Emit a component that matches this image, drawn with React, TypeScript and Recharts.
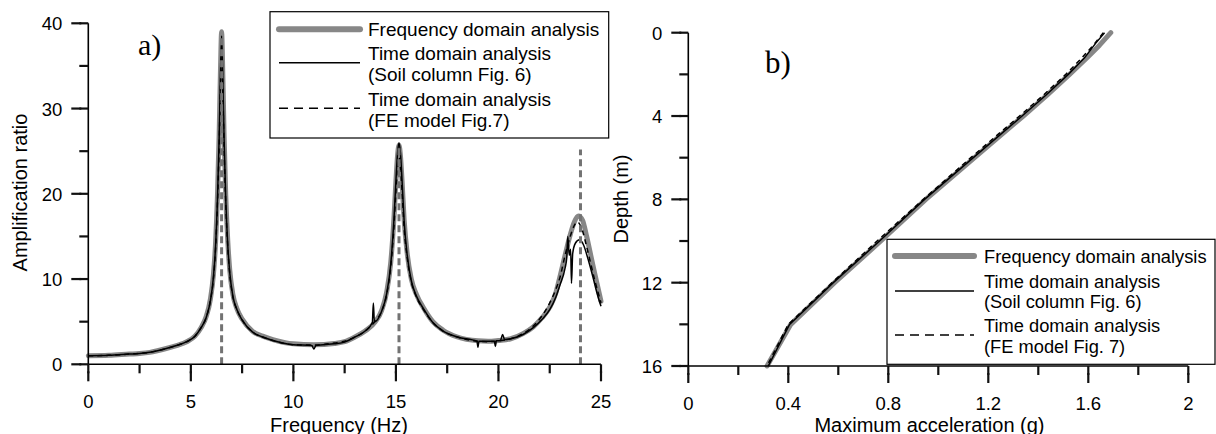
import { LineChart, Line, XAxis, YAxis, ReferenceLine } from "recharts";

// ---- a) amplification ratio vs frequency, [Hz, ratio] ----
const freqDomain: [number, number][] = [
  [0, 1.0], [1, 1.05], [2, 1.2], [2.5, 1.27], [3, 1.4], [3.8, 1.85], [4.3, 2.2], [4.8, 2.65],
  [5.2, 3.3], [5.5, 4.3], [5.75, 5.6], [5.95, 7.6], [6.1, 10.5], [6.2, 14], [6.3, 20], [6.38, 27],
  [6.44, 34], [6.5, 39], [6.56, 34], [6.62, 27], [6.7, 20], [6.8, 14.5], [6.9, 11], [7.05, 8.2],
  [7.25, 6.5], [7.5, 5.3], [8, 3.9], [8.5, 3.3], [9, 2.9], [10, 2.4], [11, 2.3], [12, 2.45],
  [12.5, 2.65], [13, 3.2], [13.5, 3.9], [14, 5.0], [14.3, 6.3], [14.55, 8.5], [14.75, 12],
  [14.9, 17], [15.0, 21.5], [15.08, 24.5], [15.15, 25.7], [15.22, 24.5], [15.3, 21.5],
  [15.4, 17], [15.55, 13], [15.75, 10], [16.0, 8.2], [16.35, 6.6], [16.8, 5.0], [17.3, 4.0],
  [18, 3.2], [19, 2.75], [19.5, 2.7], [20, 2.8], [20.6, 3.0], [21.2, 3.6], [21.7, 4.4],
  [22.1, 5.4], [22.5, 6.7], [22.8, 8.4], [23.0, 10.3], [23.25, 12.8], [23.5, 15.2], [23.7, 16.7],
  [23.9, 17.4], [24.1, 16.9], [24.3, 15.0], [24.5, 12.8], [24.7, 10.6], [24.85, 9.0], [25, 7.4],
];

const soilColumn: [number, number][] = [
  [0, 1.0], [1, 1.05], [2, 1.2], [2.5, 1.27], [3, 1.4], [3.8, 1.85], [4.3, 2.2], [4.8, 2.65],
  [5.2, 3.3], [5.5, 4.3], [5.75, 5.5], [5.95, 7.4], [6.1, 10.2], [6.2, 13.6], [6.3, 19.5],
  [6.38, 26.5], [6.44, 33.5], [6.5, 38.5], [6.56, 33.5], [6.62, 26.5], [6.7, 19.5], [6.8, 14],
  [6.9, 10.7], [7.05, 8.0], [7.25, 6.4], [7.5, 5.2], [8, 3.8], [8.5, 3.2], [9, 2.8], [10, 2.3],
  [10.9, 2.2], [11.0, 1.8], [11.1, 2.2], [12, 2.4], [12.5, 2.6], [13, 3.2], [13.5, 3.9],
  [13.85, 4.9], [13.9, 7.2], [13.95, 5.0], [14.3, 6.2], [14.55, 8.3], [14.75, 11.8], [14.9, 16.8],
  [15.0, 21.5], [15.08, 24.8], [15.15, 26.0], [15.22, 24.8], [15.3, 21.5], [15.4, 16.8],
  [15.55, 12.8], [15.75, 9.8], [16.0, 8.0], [16.35, 6.5], [16.8, 4.9], [17.3, 3.9], [18, 3.2],
  [18.95, 2.7], [19.0, 2.0], [19.05, 2.7], [19.5, 2.7], [19.8, 2.7], [19.85, 2.1], [19.9, 2.75],
  [20.1, 2.8], [20.2, 3.5], [20.3, 2.9], [20.6, 3.0], [21.2, 3.5], [21.7, 4.3], [22.1, 5.2],
  [22.5, 6.4], [22.8, 7.9], [23.0, 9.3], [23.25, 11.3], [23.33, 12.5], [23.38, 15.0],
  [23.45, 12.8], [23.52, 13.5], [23.56, 9.5], [23.62, 13.0], [23.75, 14.2], [23.95, 14.6],
  [24.15, 14.0], [24.35, 12.5], [24.6, 10.3], [24.8, 8.4], [25, 6.8],
];

const feModel: [number, number][] = [
  [0, 1.0], [1, 1.05], [2, 1.2], [3, 1.4], [3.8, 1.85], [4.3, 2.2], [4.8, 2.65], [5.2, 3.3],
  [5.5, 4.3], [5.75, 5.5], [5.95, 7.4], [6.1, 10], [6.2, 13.3], [6.3, 19], [6.38, 25.5],
  [6.44, 32], [6.5, 36.5], [6.56, 32], [6.62, 25.5], [6.7, 19], [6.8, 13.8], [6.9, 10.5],
  [7.05, 7.9], [7.25, 6.4], [7.5, 5.2], [8, 3.8], [8.5, 3.2], [9, 2.8], [10, 2.3], [11, 2.25],
  [12, 2.5], [12.5, 2.7], [13, 3.2], [13.5, 3.9], [14, 5.1], [14.3, 6.2], [14.55, 8.2],
  [14.75, 11.5], [14.9, 16], [15.0, 20.3], [15.08, 23], [15.15, 24.2], [15.22, 23], [15.3, 20.3],
  [15.4, 16], [15.55, 12.5], [15.75, 9.7], [16, 7.9], [16.35, 6.4], [16.8, 4.9], [17.3, 3.9],
  [18, 3.2], [19, 2.7], [19.5, 2.65], [20, 2.75], [20.6, 3.0], [21.2, 3.6], [21.7, 4.5],
  [22.1, 5.6], [22.5, 7.2], [22.8, 8.8], [23.0, 10.2], [23.25, 12.8], [23.5, 15.0], [23.7, 16.3],
  [23.85, 16.7], [24.05, 16.0], [24.3, 13.8], [24.5, 11.8], [24.7, 9.8], [24.85, 8.5], [25, 7.2],
];

// resonance markers: frequency, top of the dashed line
const resonanceFreq = [6.5, 15.15, 24.0];
const resonanceTop = [38.5, 25.5, 25.2];

const freqTicks = [0, 2.5, 5, 7.5, 10, 12.5, 15, 17.5, 20, 22.5, 25];
const ampTicks = [0, 5, 10, 15, 20, 25, 30, 35, 40];

// ---- b) max acceleration profile, [g, depth m] ----
const freqProfile: [number, number][] = [
  [1.69, 0], [1.645, 0.6], [1.595, 1.2], [1.525, 2], [1.435, 3], [1.34, 4], [1.145, 6],
  [0.95, 8], [0.77, 10], [0.585, 12], [0.41, 14], [0.315, 16],
];
const soilProfile: [number, number][] = [
  [1.665, 0], [1.63, 0.5], [1.585, 1.2], [1.52, 2], [1.43, 3], [1.335, 4], [1.14, 6],
  [0.945, 8], [0.765, 10], [0.58, 12], [0.405, 14], [0.32, 16],
];
const feProfile: [number, number][] = [
  [1.66, 0], [1.62, 0.6], [1.575, 1.2], [1.51, 2], [1.42, 3], [1.325, 4], [1.13, 6],
  [0.94, 8], [0.755, 10], [0.575, 12], [0.4, 14], [0.315, 16],
];

const accTicks = [0, 0.2, 0.4, 0.6, 0.8, 1, 1.2, 1.4, 1.6, 1.8, 2];
const depthTicks = [0, 2, 4, 6, 8, 10, 12, 14, 16];

const legendLabels = [
  "Frequency domain analysis",
  "Time domain analysis",
  "(Soil column Fig. 6)",
  "Time domain analysis",
];
const feLabelA = "(FE model Fig.7)";
const feLabelB = "(FE model Fig. 7)";

const FONT = "'Liberation Sans', Arial, Helvetica, sans-serif";
const SERIF = "'Liberation Serif', 'Times New Roman', serif";
const GRAY = "#878787";
const TW = 2.2; // tick stroke width
const MINOR = 9;
const MAJOR = 17;

const ampData = (pts: [number, number][]) => pts.map(([f, amp]) => ({ f, amp }));
const depthData = (pts: [number, number][]) => pts.map(([a, d]) => ({ a, d }));

// built-in tick lines give every tick the minor length; majors are extended here
const bottomTick = (isMajor: (v: number) => boolean) => (p: any) => {
  const v = p.payload.value;
  const x = Number(p.x);
  const y = Number(p.y); // axis + MINOR
  if (!isMajor(v)) return <g key={`bt-${v}`} />;
  return (
    <g key={`bt-${v}`}>
      <path d={`M${x},${y - 2}V${y + MAJOR - MINOR}`} stroke="#111" strokeWidth={TW} fill="none" />
      <text x={x} y={y - MINOR + 43.5} textAnchor="middle" fontSize={18.5} fontFamily={FONT} fill="#000">
        {String(v)}
      </text>
    </g>
  );
};

const leftTick = (isMajor: (v: number) => boolean) => (p: any) => {
  const v = p.payload.value;
  const x = Number(p.x); // axis - MINOR
  const y = Number(p.y);
  if (!isMajor(v)) return <g key={`lt-${v}`} />;
  return (
    <g key={`lt-${v}`}>
      <path d={`M${x + 2},${y}H${x - (MAJOR - MINOR)}`} stroke="#111" strokeWidth={TW} fill="none" />
      <text x={x + MINOR - 26} y={y + 7} textAnchor="end" fontSize={18.5} fontFamily={FONT} fill="#000">
        {String(v)}
      </text>
    </g>
  );
};

function LegendBox({ x, y, w, h, fs, sx, tx, rows, feLabel }: any) {
  // five text baselines, then the y of the three line samples
  const [b1, b2, b3, b4, b5, s1, s2, s3] = rows;
  return (
    <g fontFamily={FONT} fontSize={fs} fill="#000">
      <rect x={x} y={y} width={w} height={h} fill="none" stroke="#000" strokeWidth={1.2} />
      <line x1={sx[0]} x2={sx[1]} y1={s1} y2={s1} stroke={GRAY} strokeWidth={6} strokeLinecap="round" />
      <line x1={sx[0]} x2={sx[1]} y1={s2} y2={s2} stroke="#000" strokeWidth={1.6} />
      <line x1={sx[0]} x2={sx[1]} y1={s3} y2={s3} stroke="#000" strokeWidth={1.6} strokeDasharray="9 6" />
      <text x={tx} y={b1}>{legendLabels[0]}</text>
      <text x={tx} y={b2}>{legendLabels[1]}</text>
      <text x={tx} y={b3}>{legendLabels[2]}</text>
      <text x={tx} y={b4}>{legendLabels[3]}</text>
      <text x={tx} y={b5}>{feLabel}</text>
    </g>
  );
}

const axisLine = { stroke: "#000", strokeWidth: 1.6 };
const tickLine = { stroke: "#111", strokeWidth: TW };

export default function App() {
  return (
    <div style={{ position: "absolute", left: 0, top: 0, width: 1216, height: 434, background: "#fff" }}>
      {/* annotation layer sits underneath the charts */}
      <svg width={1216} height={434} style={{ position: "absolute", left: 0, top: 0 }}>
        <LegendBox x={270} y={11.7} w={338.7} h={126.3} fs={19} sx={[279, 360]} tx={368}
          rows={[35.8, 59.8, 80.8, 105.5, 126.5, 29.3, 62.7, 108.3]} feLabel={feLabelA} />
        <LegendBox x={887} y={239.3} w={328} h={125} fs={18.3} sx={[895, 974]} tx={984}
          rows={[262.5, 288, 308.2, 332, 352.5, 256, 291, 335]} feLabel={feLabelB} />

        <text x={138} y={54.5} fontFamily={SERIF} fontSize={30} fill="#000">a)</text>
        <text x={765} y={72.5} fontFamily={SERIF} fontSize={31} fill="#000">b)</text>

        <g fontFamily={FONT} fontSize={20} fill="#000" textAnchor="middle">
          <text x={339} y={431.5}>Frequency (Hz)</text>
          <text x={929.5} y={431.5}>Maximum acceleration (g)</text>
          <text transform="translate(27,192.5) rotate(-90)">Amplification ratio</text>
          <text transform="translate(628,199) rotate(-90)">Depth (m)</text>
        </g>
      </svg>

      <div style={{ position: "absolute", left: 0, top: 0 }}>
        <LineChart width={620} height={434} margin={{ top: 23.3, right: 19, bottom: 19.7, left: 28.3 }}>
          <XAxis
            type="number"
            dataKey="f"
            domain={[0, 25]}
            ticks={freqTicks}
            interval={0}
            height={50}
            tickSize={MINOR}
            tickMargin={0}
            tickLine={tickLine}
            axisLine={axisLine}
            tick={bottomTick((v) => v % 5 === 0)}
          />
          <YAxis
            type="number"
            domain={[0, 40]}
            ticks={ampTicks}
            interval={0}
            width={60}
            tickSize={MINOR}
            tickMargin={0}
            tickLine={tickLine}
            axisLine={axisLine}
            tick={leftTick((v) => v % 10 === 0)}
          />
          <Line data={ampData(freqDomain)} dataKey="amp" type="monotone" stroke={GRAY} strokeWidth={5}
            strokeLinecap="round" strokeLinejoin="round" dot={false} isAnimationActive={false} />
          <Line data={ampData(soilColumn)} dataKey="amp" type="monotone" stroke="#000" strokeWidth={1.5}
            dot={false} isAnimationActive={false} />
          <Line data={ampData(feModel)} dataKey="amp" type="monotone" stroke="#000" strokeWidth={1.5}
            strokeDasharray="5 4" dot={false} isAnimationActive={false} />
          {resonanceFreq.map((f, i) => (
            <ReferenceLine
              key={f}
              segment={[{ x: f, y: 0 }, { x: f, y: resonanceTop[i] }]}
              stroke="#737373"
              strokeWidth={3}
              strokeDasharray="7 4"
            />
          ))}
        </LineChart>
      </div>

      <div style={{ position: "absolute", left: 620, top: 0 }}>
        <LineChart width={596} height={434} margin={{ top: 32.7, right: 27.7, bottom: 18, left: 18.3 }}>
          <XAxis
            type="number"
            dataKey="a"
            domain={[0, 2]}
            ticks={accTicks}
            interval={0}
            height={50}
            tickSize={MINOR}
            tickMargin={0}
            tickLine={tickLine}
            axisLine={axisLine}
            tick={bottomTick((v) => Math.round(v * 10) % 4 === 0)}
          />
          <YAxis
            type="number"
            reversed
            domain={[0, 16]}
            ticks={depthTicks}
            interval={0}
            width={50}
            tickSize={MINOR}
            tickMargin={0}
            tickLine={tickLine}
            axisLine={axisLine}
            tick={leftTick((v) => v % 4 === 0)}
          />
          <Line data={depthData(freqProfile)} dataKey="d" type="linear" stroke={GRAY} strokeWidth={5}
            strokeLinecap="round" strokeLinejoin="round" dot={false} isAnimationActive={false} />
          <Line data={depthData(soilProfile)} dataKey="d" type="linear" stroke="#000" strokeWidth={1.5}
            dot={false} isAnimationActive={false} />
          <Line data={depthData(feProfile)} dataKey="d" type="linear" stroke="#000" strokeWidth={1.5}
            strokeDasharray="5 4" dot={false} isAnimationActive={false} />
        </LineChart>
      </div>
    </div>
  );
}
